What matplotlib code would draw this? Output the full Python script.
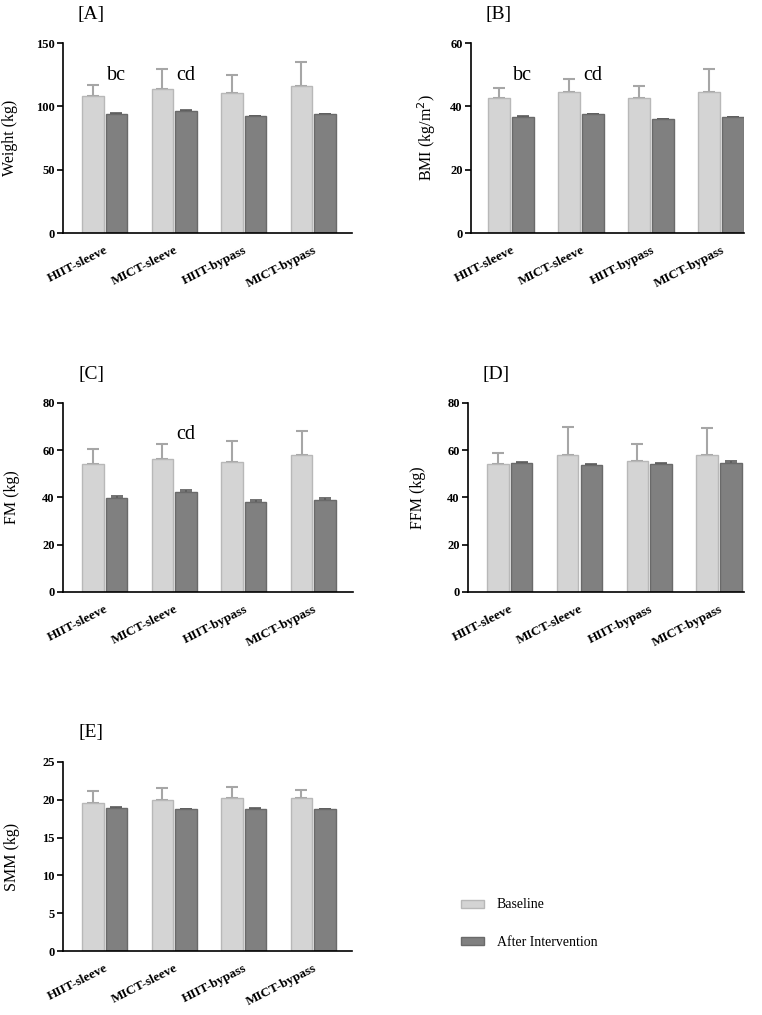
import matplotlib.pyplot as plt
import numpy as np
from matplotlib.patches import Patch

plt.rcParams['font.family'] = ['Liberation Serif', 'DejaVu Serif']

groups = ['HIIT-sleeve', 'MICT-sleeve', 'HIIT-bypass', 'MICT-bypass']

# panel A - weight
weight_base = [108.2, 113.7, 110.3, 116.3]
weight_base_err = [8.8, 15.8, 14.2, 18.4]
weight_after = [94.0, 96.6, 92.1, 93.7]
weight_after_err = [0.5, 0.5, 0.4, 0.4]

# panel B - BMI
bmi_base = [42.6, 44.5, 42.6, 44.5]
bmi_base_err = [3.3, 4.0, 3.8, 7.3]
bmi_after = [36.5, 37.5, 35.9, 36.5]
bmi_after_err = [0.3, 0.2, 0.2, 0.2]

# panel C - fat mass
fm_base = [54.0, 56.1, 55.0, 58.2]
fm_base_err = [6.6, 6.6, 9.1, 10.1]
fm_after = [39.9, 42.2, 38.0, 38.9]
fm_after_err = [0.7, 0.8, 0.9, 0.9]

# panel D - fat free mass
ffm_base = [54.0, 57.8, 55.3, 58.2]
ffm_base_err = [4.8, 11.9, 7.4, 11.3]
ffm_after = [54.6, 53.6, 54.0, 54.8]
ffm_after_err = [0.5, 0.4, 0.6, 0.5]

# panel E - skeletal muscle mass
smm_base = [19.6, 20.0, 20.2, 20.2]
smm_base_err = [1.5, 1.5, 1.5, 1.1]
smm_after = [18.9, 18.75, 18.8, 18.75]
smm_after_err = [0.15, 0.08, 0.1, 0.07]

panels = [
    ('[A]', 'Weight (kg)', weight_base, weight_base_err, weight_after, weight_after_err, 150, 50,
     [(0, 'bc', 121), (1, 'cd', 121)]),
    ('[B]', 'BMI (kg/m$^2$)', bmi_base, bmi_base_err, bmi_after, bmi_after_err, 60, 20,
     [(0, 'bc', 48.3), (1, 'cd', 48.3)]),
    ('[C]', 'FM (kg)', fm_base, fm_base_err, fm_after, fm_after_err, 80, 20,
     [(1, 'cd', 64.8)]),
    ('[D]', 'FFM (kg)', ffm_base, ffm_base_err, ffm_after, ffm_after_err, 80, 20, []),
    ('[E]', 'SMM (kg)', smm_base, smm_base_err, smm_after, smm_after_err, 25, 5, []),
]

W, H = 762, 1015
# axes boxes in pixels: left, top, right, bottom
boxes = [
    (63, 43, 352, 233),
    (471, 43, 744, 233),
    (63, 403, 353, 592),
    (468, 403, 744, 592),
    (63, 762, 352, 951),
]
xlims = [(-0.6, 3.56), (-0.57, 3.33), (-0.6, 3.57), (-0.6, 3.36), (-0.6, 3.56)]
ylab_pads = [13, 9, 16, 15, 16]

light = '#d4d4d4'
light_edge = '#b8b8b8'
dark = '#808080'
dark_edge = '#6a6a6a'

fig = plt.figure(figsize=(W / 100, H / 100), dpi=100)

x = np.arange(len(groups))
bw = 0.31
off = 0.17

for (lab, ylab, base, berr, after, aerr, ymax, step, notes), box, xl, lp in zip(panels, boxes, xlims, ylab_pads):
    l, t, r, b = box
    ax = fig.add_axes([l / W, 1 - b / H, (r - l) / W, (b - t) / H])
    ax.bar(x - off, base, bw, color=light, edgecolor=light_edge, linewidth=1, zorder=2)
    ax.bar(x + off, after, bw, color=dark, edgecolor=dark_edge, linewidth=1, zorder=2)
    ax.errorbar(x - off, base, yerr=[np.zeros(4), berr], fmt='none', ecolor='#a6a6a6',
                elinewidth=1.5, capsize=4, capthick=1.5, zorder=1)
    ax.errorbar(x + off, after, yerr=[np.zeros(4), aerr], fmt='none', ecolor='#5a5a5a',
                elinewidth=1.2, capsize=4, capthick=1.2, zorder=1)
    for gi, txt, yv in notes:
        ax.text(x[gi] + off, yv, txt, ha='center', va='baseline', fontsize=14.5)
    ax.set_ylim(0, ymax)
    ax.set_xlim(*xl)
    ax.set_yticks(np.arange(0, ymax + step / 2, step))
    ax.set_xticks(x)
    ax.set_xticklabels(groups, rotation=27, ha='right', rotation_mode='anchor',
                       fontweight='bold', fontsize=9.5)
    for tl in ax.get_yticklabels():
        tl.set_fontweight('bold')
        tl.set_fontsize(9)
    ax.tick_params(axis='x', length=0, pad=8)
    ax.tick_params(axis='y', length=4, width=1.2, direction='out', pad=2)
    for s in ['top', 'right']:
        ax.spines[s].set_visible(False)
    for s in ['left', 'bottom']:
        ax.spines[s].set_linewidth(1.2)
    ax.set_ylabel(ylab, fontsize=11.5, labelpad=lp)
    fig.text((l + 28) / W, 1 - (t - 29) / H, lab, ha='center', va='center', fontsize=14)

handles = [Patch(facecolor=light, edgecolor=light_edge, label='Baseline'),
           Patch(facecolor=dark, edgecolor=dark_edge, label='After Intervention')]
fig.legend(handles=handles, loc='upper left', bbox_to_anchor=(448 / W, 1 - 886 / H),
           frameon=False, fontsize=10, handlelength=1.7, handleheight=0.5,
           labelspacing=1.75, handletextpad=0.9)

fig.savefig('out.png', dpi=100)
